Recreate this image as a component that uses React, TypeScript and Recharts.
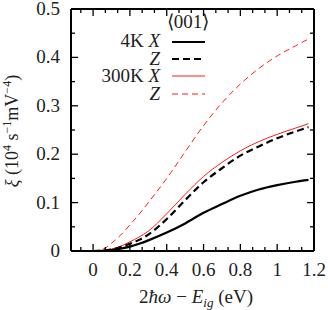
import React from 'react';
import { LineChart, Line, XAxis, YAxis } from 'recharts';

// photon energy above gap (eV)
const xValues = [0, 0.05, 0.1, 0.15, 0.2, 0.25, 0.3, 0.4, 0.5, 0.6, 0.7, 0.8, 0.9, 1.0, 1.1, 1.17];
// xi (10^4 s^-1 mV^-4)
const x4K = [0, 0.0003, 0.002, 0.005, 0.009, 0.015, 0.022, 0.038, 0.057, 0.079, 0.097, 0.114, 0.127, 0.136, 0.143, 0.147];
const z4K = [0, 0.0005, 0.003, 0.008, 0.015, 0.023, 0.034, 0.066, 0.105, 0.142, 0.171, 0.197, 0.216, 0.233, 0.247, 0.256];
const x300K = [0, 0.001, 0.004, 0.01, 0.019, 0.029, 0.041, 0.077, 0.117, 0.154, 0.183, 0.207, 0.226, 0.241, 0.254, 0.263];
const z300K = [0, 0.003, 0.016, 0.033, 0.054, 0.076, 0.1, 0.15, 0.205, 0.259, 0.306, 0.345, 0.377, 0.403, 0.424, 0.438];

const xMajorTicks = [0, 0.2, 0.4, 0.6, 0.8, 1, 1.2];
const xMinorTicks = [-0.0667, 0.0667, 0.1333, 0.2667, 0.3333, 0.4667, 0.5333, 0.6667, 0.7333, 0.8667, 0.9333, 1.0667, 1.1333];
const yMajorTicks = [0, 0.1, 0.2, 0.3, 0.4, 0.5];
const yMinorTicks = [0.05, 0.15, 0.25, 0.35, 0.45];
const xDomain = [-0.12, 1.2];
const yDomain = [0, 0.5];

const data = xValues.map((x, i) => ({ x, x4K: x4K[i], z4K: z4K[i], x300K: x300K[i], z300K: z300K[i] }));

const FONT = 'Liberation Serif';
const RED = '#ff1a1a';
const TXT = { fontFamily: FONT };

const isMajor = (v: number, list: number[]) => list.some((m) => Math.abs(m - v) < 1e-6);
const allX = [...xMajorTicks, ...xMinorTicks].sort((a, b) => a - b);
const allY = [...yMajorTicks, ...yMinorTicks].sort((a, b) => a - b);

const BottomTick = (props: any) => {
  const { x, y, payload } = props;
  const major = isMajor(payload.value, xMajorTicks);
  return (
    <g>
      <line x1={x} x2={x} y1={y} y2={y - (major ? 7 : 4)} stroke="#000" strokeWidth={1.3} />
      {major && (
        <text x={x} y={y + 25} textAnchor="middle" fontFamily={FONT} style={TXT} fontSize={19} fill="#222">
          {String(payload.value)}
        </text>
      )}
    </g>
  );
};

const TopTick = (props: any) => {
  const { x, y, payload } = props;
  const major = isMajor(payload.value, xMajorTicks);
  return <line x1={x} x2={x} y1={y} y2={y + (major ? 7 : 4)} stroke="#000" strokeWidth={1.3} />;
};

const LeftTick = (props: any) => {
  const { x, y, payload } = props;
  const major = isMajor(payload.value, yMajorTicks);
  return (
    <g>
      <line x1={x} x2={x + (major ? 7 : 4)} y1={y} y2={y} stroke="#000" strokeWidth={1.3} />
      {major && (
        <text x={x - 11} y={y + 6} textAnchor="end" fontFamily={FONT} style={TXT} fontSize={19} fill="#222">
          {String(payload.value)}
        </text>
      )}
    </g>
  );
};

const RightTick = (props: any) => {
  const { x, y, payload } = props;
  const major = isMajor(payload.value, yMajorTicks);
  return <line x1={x} x2={x - (major ? 7 : 4)} y1={y} y2={y} stroke="#000" strokeWidth={1.3} />;
};

const axisLine = { stroke: '#000', strokeWidth: 2 };
const globalCss = "svg text, svg tspan { font-family: 'Liberation Serif', serif !important; }";

export default function App() {
  return (
    <div style={{ position: 'absolute', left: 0, top: 0, width: 328, height: 310, background: '#fff' }}>
      <style>{globalCss}</style>
      <LineChart width={328} height={310} data={data} margin={{ top: 5, right: 10, bottom: 19, left: 31 }}>
        <XAxis
          dataKey="x"
          type="number"
          domain={xDomain}
          ticks={allX}
          interval={0}
          height={40}
          tickSize={0}
          tickMargin={0}
          tickLine={false}
          axisLine={axisLine}
          tick={<BottomTick />}
          allowDataOverflow
        />
        <XAxis
          xAxisId="top"
          orientation="top"
          dataKey="x"
          type="number"
          domain={xDomain}
          ticks={allX}
          interval={0}
          height={4}
          tickSize={0}
          tickMargin={0}
          tickLine={false}
          axisLine={axisLine}
          tick={<TopTick />}
          allowDataOverflow
        />
        <YAxis
          type="number"
          domain={yDomain}
          ticks={allY}
          interval={0}
          width={40}
          tickSize={0}
          tickMargin={0}
          tickLine={false}
          axisLine={axisLine}
          tick={<LeftTick />}
          allowDataOverflow
        />
        <YAxis
          yAxisId="right"
          orientation="right"
          type="number"
          domain={yDomain}
          ticks={allY}
          interval={0}
          width={4}
          tickSize={0}
          tickMargin={0}
          tickLine={false}
          axisLine={axisLine}
          tick={<RightTick />}
          allowDataOverflow
        />
        <Line dataKey="z300K" type="monotone" stroke={RED} strokeWidth={1} strokeDasharray="6 4" dot={false} isAnimationActive={false} />
        <Line dataKey="x300K" type="monotone" stroke={RED} strokeWidth={1} dot={false} isAnimationActive={false} />
        <Line dataKey="z4K" type="monotone" stroke="#000" strokeWidth={2.2} strokeDasharray="7 4" dot={false} isAnimationActive={false} />
        <Line dataKey="x4K" type="monotone" stroke="#000" strokeWidth={2.2} dot={false} isAnimationActive={false} />
      </LineChart>
      <svg width={328} height={310} style={{ position: 'absolute', left: 0, top: 0, pointerEvents: 'none' }}>
        <g fontFamily={FONT} style={TXT} fontSize={19} fill="#222">
          <text x={188} y={28} textAnchor="middle">⟨001⟩</text>
          <text x={160} y={47} textAnchor="end">4K <tspan fontStyle="italic">X</tspan></text>
          <text x={160} y={65} textAnchor="end"><tspan fontStyle="italic">Z</tspan></text>
          <text x={160} y={82} textAnchor="end">300K <tspan fontStyle="italic">X</tspan></text>
          <text x={160} y={100} textAnchor="end"><tspan fontStyle="italic">Z</tspan></text>
        </g>
        <line x1={172} x2={205} y1={42} y2={42} stroke="#000" strokeWidth={2.2} />
        <line x1={172} x2={205} y1={59} y2={59} stroke="#000" strokeWidth={2.2} strokeDasharray="7 4" />
        <line x1={172} x2={205} y1={76} y2={76} stroke={RED} strokeWidth={1} />
        <line x1={172} x2={205} y1={94} y2={94} stroke={RED} strokeWidth={1} strokeDasharray="6 4" />
        <text x={196} y={303} textAnchor="middle" fontFamily={FONT} style={TXT} fontSize={19} fill="#222">
          2<tspan fontStyle="italic">ħω</tspan> − <tspan fontStyle="italic">E</tspan>
          <tspan fontStyle="italic" fontSize={13} dy={4}>ig</tspan>
          <tspan dy={-4}> (eV)</tspan>
        </text>
        <text transform="translate(18,131) rotate(-90)" textAnchor="middle" fontFamily={FONT} style={TXT} fontSize={18} fill="#222">
          <tspan fontStyle="italic">ξ</tspan> (10<tspan fontSize={12} dy={-7}>4</tspan>
          <tspan dy={7}> s</tspan>
          <tspan fontSize={12} dy={-7}>−1</tspan>
          <tspan dy={7}>mV</tspan>
          <tspan fontSize={12} dy={-7}>−4</tspan>
          <tspan dy={7}>)</tspan>
        </text>
      </svg>
    </div>
  );
}
